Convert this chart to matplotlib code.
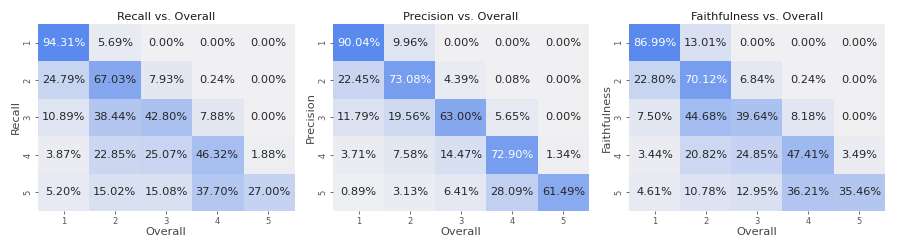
import numpy as np
import matplotlib
matplotlib.use("Agg")
import matplotlib.pyplot as plt
from matplotlib.colors import LinearSegmentedColormap

labels = ["1", "2", "3", "4", "5"]
titles = ["Recall vs. Overall", "Precision vs. Overall", "Faithfulness vs. Overall"]
ylabels = ["Recall", "Precision", "Faithfulness"]
xlabel = "Overall"

recall = [
    [94.31, 5.69, 0.00, 0.00, 0.00],
    [24.79, 67.03, 7.93, 0.24, 0.00],
    [10.89, 38.44, 42.80, 7.88, 0.00],
    [3.87, 22.85, 25.07, 46.32, 1.88],
    [5.20, 15.02, 15.08, 37.70, 27.00],
]
precision = [
    [90.04, 9.96, 0.00, 0.00, 0.00],
    [22.45, 73.08, 4.39, 0.08, 0.00],
    [11.79, 19.56, 63.00, 5.65, 0.00],
    [3.71, 7.58, 14.47, 72.90, 1.34],
    [0.89, 3.13, 6.41, 28.09, 61.49],
]
faithfulness = [
    [86.99, 13.01, 0.00, 0.00, 0.00],
    [22.80, 70.12, 6.84, 0.24, 0.00],
    [7.50, 44.68, 39.64, 8.18, 0.00],
    [3.44, 20.82, 24.85, 47.41, 3.49],
    [4.61, 10.78, 12.95, 36.21, 35.46],
]
datasets = [recall, precision, faithfulness]

cmap = LinearSegmentedColormap.from_list("gb", ["#f0f0f3", "#5a8aee"])

fig = plt.figure(figsize=(8.97, 2.49), dpi=100)
W, H = 897, 249
lefts = [38, 333, 629]
for k, data in enumerate(datasets):
    arr = np.array(data)
    ax = fig.add_axes([lefts[k] / W, 1 - 211 / H, 256 / W, 187 / H])
    ax.imshow(arr, cmap=cmap, vmin=arr.min(), vmax=arr.max(), aspect="auto",
              interpolation="nearest")
    vmax = arr.max()
    for i in range(arr.shape[0]):
        for j in range(arr.shape[1]):
            v = arr[i, j]
            col = "white" if v / vmax > 0.76 else "#262626"
            ax.text(j, i, f"{v:.2f}%", ha="center", va="center", fontsize=8.2,
                    color=col)
    ax.set_xticks(range(5))
    ax.set_xticklabels(labels)
    ax.set_yticks(range(5))
    ax.set_yticklabels(labels, rotation=90, va="center")
    ax.tick_params(labelsize=6, colors="#555555", length=2, width=0.6, pad=2)
    for s in ax.spines.values():
        s.set_visible(False)
    ax.set_title(titles[k], fontsize=8.2, color="#1a1a1a", pad=3)
    ax.set_xlabel(xlabel, fontsize=8.2, color="#444444", labelpad=1)
    ax.set_ylabel(ylabels[k], fontsize=8.2, color="#444444", labelpad=2)

fig.savefig("out.png", dpi=100)
